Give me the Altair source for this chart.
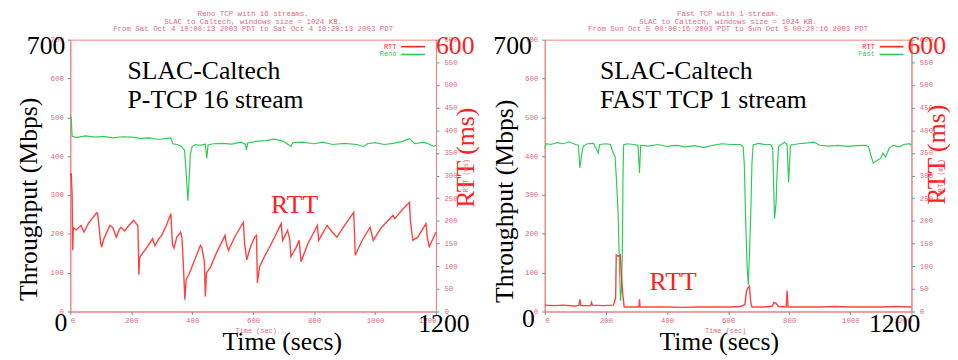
import altair as alt
import pandas as pd

# ---------------- data ----------------
# Left panel: Reno TCP, 16 streams
reno_t = [0, 3, 6, 20, 50, 80, 110, 140, 170, 200, 230, 260, 290, 315, 330, 336, 350, 365, 375,
          380, 386, 390, 394, 400, 410, 425, 443, 448, 452, 470, 500, 530, 560, 575, 578, 582,
          610, 640, 670, 700, 724, 730, 760, 800, 830, 860, 900, 940, 962, 975, 1000, 1030,
          1060, 1090, 1113, 1130, 1160, 1180, 1192, 1200]
reno_mbps = [505, 500, 452, 448, 452, 449, 451, 447, 450, 449, 446, 447, 443, 446, 447, 432, 430,
             425, 415, 360, 285, 340, 404, 425, 430, 428, 431, 395, 429, 432, 433, 431, 436, 430,
             416, 434, 438, 440, 444, 438, 425, 435, 436, 432, 436, 430, 433, 430, 425, 432, 435,
             430, 433, 438, 445, 432, 436, 430, 425, 428]

reno_rtt_t = [0, 3, 6, 8, 10, 20, 35, 45, 60, 87, 90, 100, 103, 110, 130, 140, 151, 160, 167, 178,
              190, 208, 215, 222, 225, 228, 250, 270, 278, 290, 300, 315, 330, 335, 340, 350, 362,
              366, 370, 376, 380, 389, 400, 427, 432, 440, 443, 447, 460, 480, 508, 512, 519, 540,
              568, 572, 579, 590, 605, 611, 614, 621, 637, 660, 692, 697, 713, 720, 724, 740, 751,
              757, 780, 811, 815, 830, 843, 860, 875, 900, 930, 935, 960, 984, 994, 1020, 1059,
              1065, 1090, 1113, 1116, 1124, 1140, 1167, 1172, 1178, 1195, 1200]
reno_rtt_ms = [300, 305, 260, 135, 185, 180, 190, 175, 195, 218, 215, 150, 142, 160, 190, 185, 164,
               180, 186, 178, 188, 201, 195, 190, 81, 120, 140, 161, 145, 160, 168, 190, 216, 150,
               140, 165, 175, 165, 118, 26, 70, 81, 100, 146, 140, 110, 33, 85, 98, 130, 168, 150,
               135, 165, 197, 150, 114, 140, 164, 168, 63, 99, 121, 150, 194, 157, 179, 160, 121,
               140, 157, 110, 150, 190, 157, 175, 190, 175, 164, 190, 219, 124, 160, 186, 157, 185,
               212, 205, 225, 241, 200, 157, 164, 194, 160, 143, 168, 175]

# Right panel: FAST TCP, 1 stream
fast_t = [0, 5, 20, 40, 60, 80, 100, 110, 115, 120, 126, 140, 160, 175, 180, 200, 215, 223, 230,
          234, 240, 245, 248, 251, 254, 256, 258, 270, 290, 305, 310, 314, 340, 370, 400, 430, 460,
          490, 520, 550, 580, 610, 640, 649, 653, 657, 662, 666, 670, 674, 678, 682, 700, 720, 740,
          746, 752, 757, 760, 765, 784, 793, 798, 804, 830, 860, 881, 900, 930, 960, 990, 1020,
          1050, 1059, 1068, 1075, 1090, 1100, 1107, 1115, 1127, 1140, 1160, 1175, 1194, 1200]
fast_mbps = [420, 432, 430, 435, 432, 437, 430, 428, 370, 400, 426, 432, 433, 408, 430, 432, 430,
             410, 400, 349, 256, 100, 28, 60, 155, 340, 429, 432, 430, 428, 357, 428, 426, 430,
             425, 428, 424, 427, 422, 428, 432, 430, 430, 425, 380, 247, 120, 69, 150, 247, 380,
             429, 433, 430, 430, 420, 239, 280, 350, 425, 436, 430, 332, 428, 432, 434, 436, 428,
             426, 428, 425, 427, 428, 425, 400, 382, 390, 395, 408, 398, 420, 428, 424, 430, 432,
             428]

fast_rtt_t = [0, 30, 60, 100, 112, 115, 118, 150, 153, 156, 190, 225, 232, 234, 240, 247, 250, 255,
              260, 300, 308, 310, 312, 350, 400, 450, 500, 550, 600, 640, 655, 660, 665, 670, 674,
              678, 720, 745, 750, 757, 765, 790, 793, 796, 850, 900, 950, 1000, 1050, 1100, 1150,
              1200]
fast_rtt_ms = [14, 13, 14, 12, 14, 27, 13, 13, 20, 14, 13, 14, 30, 125, 122, 125, 89, 40, 10, 10,
               10, 27, 10, 10, 10, 9, 10, 10, 10, 11, 15, 45, 52, 56, 20, 10, 10, 12, 20, 18, 11,
               10, 46, 10, 10, 10, 11, 10, 10, 10, 11, 10]

X_TICKS = [0, 200, 400, 600, 800, 1000, 1200]
Y_TICKS = [0, 100, 200, 300, 400, 500, 600, 700]
RTT_TICKS = [0, 50, 100, 150, 200, 250, 300, 350, 400, 450, 500, 550, 600]

reno_title = ["Reno TCP with 16 streams.",
              "SLAC to Caltech, windows size = 1024 KB.",
              "From Sat Oct  4 10:00:13 2003 PDT to Sat Oct  4 10:20:13 2003 PDT"]
fast_title = ["Fast TCP with 1 stream.",
              "SLAC to Caltech, windows size = 1024 KB.",
              "From Sun Oct  5 00:00:16 2003 PDT to Sun Oct  5 00:20:16 2003 PDT"]

# ---------------- styling ----------------
SERIF = "Liberation Serif"
MONO = "Liberation Mono"
GREEN = "#2fcc55"
RED = "#ff2020"
TEAL = "#2aa8a8"
PINK = "#e46a78"
BORDER = "#ee8080"

XS = alt.Scale(domain=[0, 1200], nice=False)
YS = alt.Scale(domain=[0, 700], nice=False)
RS = alt.Scale(domain=[0, 600], nice=False)

SMALL = dict(labelFont=MONO, labelFontSize=7.5, labelColor=PINK, tickColor=TEAL, tickSize=3,
             domainColor=BORDER, grid=False, titleFont=SERIF, titleFontSize=26,
             titleFontWeight="normal", format="d")


def panel(thr_t, thr_v, rtt_t, rtt_v, title, name, c):
    xaxis = alt.Axis(values=X_TICKS, title="Time (secs)", labelPadding=2, titleX=c["xtx"],
                     titleY=38, titleAlign="center", titleBaseline="alphabetic",
                     titleColor="black", **SMALL)

    def X(field="t:Q"):
        return alt.X(field, scale=XS, axis=xaxis, title="Time (secs)")

    def txt(t, v, s, **kw):
        df = pd.DataFrame({"t": [t], "v": [v], "s": [s]})
        return alt.Chart(df).mark_text(**kw).encode(
            x=X(), y=alt.Y("v:Q", scale=YS, axis=None), text="s:N")

    def seg(t1, t2, v, color):
        df = pd.DataFrame({"t": [t1], "t2": [t2], "v": [v]})
        return alt.Chart(df).mark_rule(color=color, strokeWidth=1.5).encode(
            x=X(), x2="t2:Q", y=alt.Y("v:Q", scale=YS, axis=None))

    thr = alt.Chart(pd.DataFrame({"t": thr_t, "v": thr_v})).mark_line(
        color=GREEN, strokeWidth=1.2).encode(
        x=X(),
        y=alt.Y("v:Q", scale=YS, axis=alt.Axis(
            values=Y_TICKS, title="Throughput (Mbps)", labelPadding=4, titleX=c["ytx"],
            titleY=c["yty"], titleAngle=270, titleAlign="center", titleBaseline="middle",
            titleColor="black", **SMALL)))
    rtt = alt.Chart(pd.DataFrame({"t": rtt_t, "v": rtt_v})).mark_line(
        color=RED, strokeWidth=1.4, opacity=0.85).encode(
        x=X(),
        y=alt.Y("v:Q", scale=RS, axis=alt.Axis(
            values=RTT_TICKS, orient="right", title="RTT (ms)", labelPadding=5,
            titleX=c["rtx"], titleY=c["rty"], titleAngle=270, titleAlign="center",
            titleBaseline="middle", titleColor=RED, **SMALL)))
    big = dict(font=SERIF, fontSize=26, baseline="alphabetic")
    mono = dict(font=MONO, fontSize=7, baseline="middle")
    texts = [
        txt(0, 700, "700", align="right", dx=c["d700"], dy=15, color="black", **big),
        txt(0, 0, "0", align="right", dx=c["d0x"], dy=c["d0y"], color="black", **big),
        txt(1200, 0, "1200", align="center", dx=c["d1200"], dy=21, color="black", **big),
        txt(1200, 700, "600", align="left", dx=c["d600"], dy=15, color=RED, **big),
        txt(c["lt"], 600, "SLAC-Caltech", align="left", color="black", **big),
        txt(c["lt"], 524, c["line2"], align="left", color="black", **big),
        txt(c["rttt"], c["rttv"], "RTT", align="center", color=RED, **big),
        txt(c["legt"], 682, "RTT", align="right", color=RED, **mono),
        txt(c["legt"], 662, name, align="right", color=GREEN, **mono),
        seg(c["legt"] + 16, c["legt"] + 94, 682, RED),
        seg(c["legt"] + 16, c["legt"] + 94, 662, GREEN),
        txt(c["stt"], 0, "Time (sec)", align="center", dy=20, color=PINK, **mono),
        txt(1200, 350, "RTT (ms)", align="center", angle=270, dy=30, color=PINK, **mono),
    ]
    return alt.layer(thr, rtt, *texts).resolve_scale(y="independent").properties(
        width=c["w"], height=275,
        title=alt.TitleParams(text=title, font=MONO, fontSize=7.5, lineHeight=7.5, color=PINK,
                              fontWeight="normal", anchor="middle", offset=1))


left = panel(reno_t, reno_mbps, reno_rtt_t, reno_rtt_ms, reno_title, "Reno",
             dict(w=370, xtx=214, ytx=-42, yty=161, rtx=30, rty=119, d700=-5, d0x=-3, d0y=20,
                  d1200=8, d600=0, lt=188, line2="P-TCP 16 stream", rttt=736, rttv=254,
                  legt=1070, stt=610))
right = panel(fast_t, fast_mbps, fast_rtt_t, fast_rtt_ms, fast_title, "Fast",
              dict(w=371, xtx=176, ytx=-41, yty=163, rtx=25, rty=116, d700=-13, d0x=-10, d0y=16,
                   d1200=-17, d600=-4, lt=181, line2="FAST TCP 1 stream", rttt=420, rttv=56,
                   legt=1080, stt=592))

chart = alt.hconcat(left, right, spacing=110, bounds="flush").properties(
    padding={"left": 7, "top": 0, "right": 0, "bottom": 0},
    background="white",
).configure_view(stroke=BORDER, strokeWidth=1)

chart.save("out.html", embed_options={"renderer": "svg", "actions": False})
